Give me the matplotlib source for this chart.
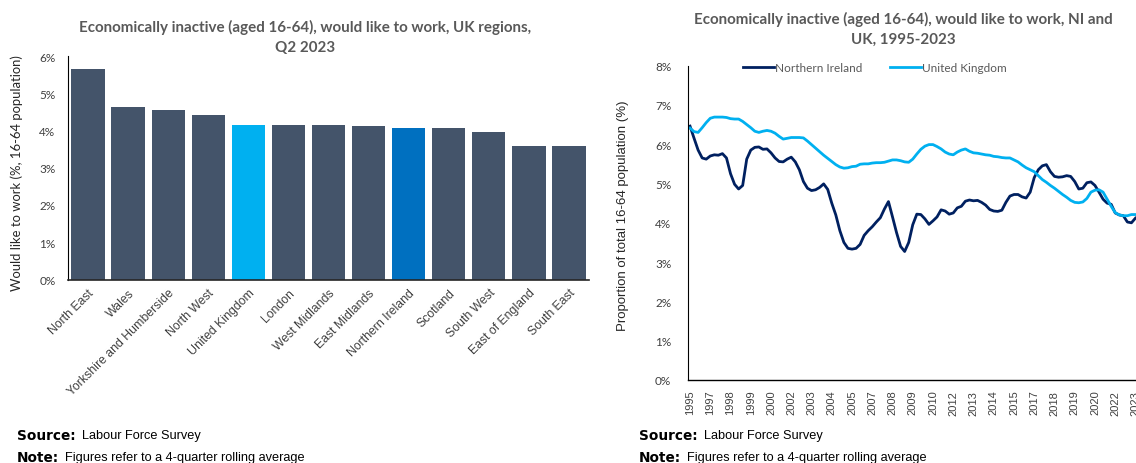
import matplotlib
matplotlib.use("Agg")
import matplotlib.pyplot as plt
from matplotlib.ticker import FuncFormatter

# Q2 2023 regional snapshot (% of 16-64 population)
regions = ["North East", "Wales", "Yorkshire and Humberside", "North West",
           "United Kingdom", "London", "West Midlands", "East Midlands",
           "Northern Ireland", "Scotland", "South West", "East of England",
           "South East"]
region_pct = [5.64, 4.63, 4.56, 4.41, 4.14, 4.14, 4.14, 4.12, 4.06, 4.07,
              3.95, 3.58, 3.58]

# quarterly 4-quarter rolling averages, 1995 to Q2 2023
ni_pct = [
    6.46, 6.15, 5.85, 5.65, 5.62, 5.70, 5.73, 5.72, 5.76, 5.65,
    5.25, 4.98, 4.86, 4.95, 5.62, 5.85, 5.92, 5.93, 5.87, 5.88,
    5.78, 5.65, 5.56, 5.55, 5.62, 5.67, 5.55, 5.35, 5.05, 4.88,
    4.82, 4.84, 4.90, 4.99, 4.85, 4.50, 4.20, 3.80, 3.50, 3.35,
    3.33, 3.35, 3.45, 3.68, 3.80, 3.90, 4.02, 4.13, 4.35, 4.54,
    4.15, 3.75, 3.40, 3.27, 3.50, 3.95, 4.22, 4.21, 4.10, 3.96,
    4.05, 4.15, 4.33, 4.30, 4.22, 4.25, 4.38, 4.42, 4.55, 4.58,
    4.56, 4.57, 4.52, 4.45, 4.34, 4.30, 4.29, 4.32, 4.52, 4.68,
    4.72, 4.72, 4.66, 4.63, 4.78, 5.15, 5.35, 5.45, 5.48, 5.30,
    5.18, 5.16, 5.17, 5.20, 5.18, 5.05, 4.86, 4.88, 5.02, 5.04,
    4.95, 4.78, 4.60, 4.50, 4.47, 4.25, 4.20, 4.18, 4.02, 4.00, 4.12,
]
uk_pct = [
    6.41, 6.32, 6.30, 6.42, 6.55, 6.66, 6.69, 6.69, 6.69, 6.68,
    6.65, 6.64, 6.64, 6.58, 6.50, 6.42, 6.33, 6.30, 6.33, 6.35,
    6.33, 6.28, 6.20, 6.13, 6.15, 6.17, 6.17, 6.17, 6.16, 6.08,
    5.99, 5.90, 5.81, 5.72, 5.64, 5.56, 5.48, 5.42, 5.39, 5.40,
    5.43, 5.44, 5.49, 5.50, 5.50, 5.52, 5.53, 5.53, 5.54, 5.57,
    5.60, 5.60, 5.58, 5.55, 5.54, 5.62, 5.75, 5.87, 5.95, 5.99,
    5.99, 5.94, 5.88, 5.80, 5.75, 5.73, 5.80, 5.85, 5.88, 5.82,
    5.78, 5.77, 5.75, 5.73, 5.72, 5.69, 5.68, 5.66, 5.65, 5.65,
    5.60, 5.55, 5.47, 5.40, 5.35, 5.30, 5.20, 5.10, 5.03, 4.95,
    4.88, 4.80, 4.72, 4.65, 4.57, 4.52, 4.51, 4.53, 4.62, 4.78,
    4.83, 4.84, 4.78, 4.60, 4.42, 4.26, 4.20, 4.18, 4.18, 4.21, 4.21,
]
# one label every fifth quarter
year_labels = ["1995", "1997", "1998", "1999", "2000", "2002", "2003", "2004",
               "2005", "2007", "2008", "2009", "2010", "2012", "2013", "2014",
               "2015", "2017", "2018", "2019", "2020", "2022", "2023"]

NAVY = "#44546A"
SKY = "#00B0F0"
MID_BLUE = "#0070C0"
NI_LINE = "#002060"
TITLE_GREY = "#595959"
TEXT = "#404040"
TITLE_FONT = ["Lato", "DejaVu Sans"]
ARIAL = ["Liberation Sans", "DejaVu Sans"]

W, H = 1136, 464
fig = plt.figure(figsize=(W / 100, H / 100), dpi=100)


def px_box(x0, y_top, x1, y_bot):
    return [x0 / W, 1 - y_bot / H, (x1 - x0) / W, (y_bot - y_top) / H]


pct = FuncFormatter(lambda v, _: f"{v:.0f}%")

# --- left: bar chart by region ---
ax1 = fig.add_axes(px_box(68, 57, 589, 280.5))
colours = [NAVY] * len(regions)
colours[regions.index("United Kingdom")] = SKY
colours[regions.index("Northern Ireland")] = MID_BLUE
ax1.bar(range(len(regions)), region_pct, width=0.83, color=colours)
ax1.set_xlim(-0.5, len(regions) - 0.5)
ax1.set_ylim(0, 6)
ax1.yaxis.set_major_formatter(pct)
ax1.set_xticks(range(len(regions)))
ax1.set_xticklabels(regions, rotation=45, ha="right", va="top",
                    rotation_mode="anchor", family=ARIAL, fontsize=8.8,
                    color=TEXT)
ax1.tick_params(axis="x", length=0, pad=5)
ax1.tick_params(axis="y", length=0, pad=9, labelsize=8.5, labelcolor=TEXT)
for lab in ax1.get_yticklabels():
    lab.set_family(TITLE_FONT)
for side in ("top", "right"):
    ax1.spines[side].set_visible(False)
ax1.spines["left"].set_color("black")
ax1.spines["left"].set_linewidth(0.8)
ax1.spines["bottom"].set_color("#262626")
ax1.spines["bottom"].set_linewidth(1.2)
fig.text(17 / W, 1 - 173 / H, "Would like to work (%, 16-64 population)",
         rotation=90, ha="center", va="center", fontsize=9.4,
         family=TITLE_FONT, color="#262626")
fig.text(305 / W, 1 - 37 / H,
         "Economically inactive (aged 16-64), would like to work, UK regions,\nQ2 2023",
         ha="center", va="center", fontsize=10.9, fontweight="bold",
         family=TITLE_FONT, color=TITLE_GREY, linespacing=1.55)

# --- right: NI vs UK time series ---
ax2 = fig.add_axes(px_box(688, 66.6, 1137.5, 381))
xs = range(len(ni_pct))
ax2.plot(xs, ni_pct, color=NI_LINE, lw=2.0, label="Northern Ireland")
ax2.plot(xs, uk_pct, color=SKY, lw=2.0, label="United Kingdom")
ax2.set_xlim(-0.5, len(ni_pct) - 0.5)
ax2.set_ylim(0, 8)
ax2.yaxis.set_major_formatter(pct)
ax2.set_xticks(range(0, len(ni_pct), 5))
ax2.set_xticklabels(year_labels, rotation=90, family=ARIAL, fontsize=8,
                    color=TEXT)
ax2.tick_params(axis="x", length=0, pad=7)
ax2.tick_params(axis="y", length=0, pad=12, labelsize=8.5, labelcolor=TEXT)
for lab in ax2.get_yticklabels():
    lab.set_family(TITLE_FONT)
for side in ("top", "right"):
    ax2.spines[side].set_visible(False)
ax2.spines["left"].set_color("black")
ax2.spines["left"].set_linewidth(0.8)
ax2.spines["bottom"].set_color("black")
ax2.spines["bottom"].set_linewidth(1.0)
leg = ax2.legend(loc="center", bbox_to_anchor=(0.416, 0.995), ncol=2,
                 frameon=False, handlelength=2.6, handletextpad=0.1,
                 columnspacing=2.4, prop={"family": TITLE_FONT, "size": 8.5})
for t in leg.get_texts():
    t.set_color(TITLE_GREY)
fig.text(623 / W, 1 - 216 / H, "Proportion of total 16-64 population (%)",
         rotation=90, ha="center", va="center", fontsize=9.5,
         family=ARIAL, color="#262626")
fig.text(903 / W, 1 - 29.5 / H,
         "Economically inactive (aged 16-64), would like to work, NI and\nUK, 1995-2023",
         ha="center", va="center", fontsize=10.9, fontweight="bold",
         family=TITLE_FONT, color=TITLE_GREY, linespacing=1.55)

# --- source / note footers ---
for x0 in (17, 639):
    for y0, head, body in ((436, "Source:", "Labour Force Survey"),
                           (458, "Note:", "Figures refer to a 4-quarter rolling average")):
        t = fig.text(x0 / W, 1 - y0 / H, head, ha="left", va="center",
                     fontsize=9.8, fontweight="bold", family="DejaVu Sans",
                     color="black")
        fig.canvas.draw()
        bb = t.get_window_extent()
        fig.text((bb.x1 + 6) / W, 1 - y0 / H, body, ha="left",
                 va="center", fontsize=9.2, family=ARIAL, color="black")

fig.savefig("out.png", dpi=100)
